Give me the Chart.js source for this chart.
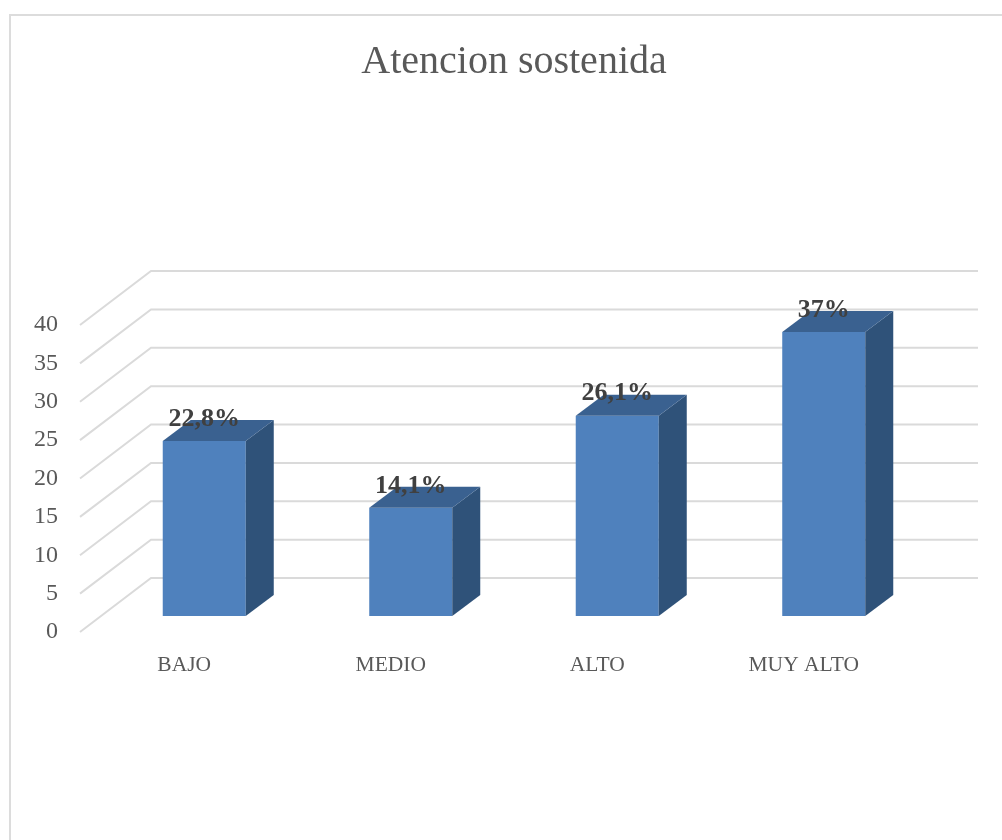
<!DOCTYPE html>
<html>
<head>
<meta charset="utf-8">
<title>Atencion sostenida</title>
<script src="https://cdn.jsdelivr.net/npm/chart.js@4/dist/chart.umd.min.js"></script>
<style>
  html, body { margin: 0; background: #fff; overflow: hidden; }
  #frame { position: absolute; left: 9px; top: 14px; width: 993px; height: 826px; border-left: 2px solid #dcdcdc; border-top: 2px solid #dcdcdc; box-sizing: border-box; }
  canvas { position: absolute; left: 0; top: 0; }
</style>
</head>
<body>
<div id="frame"></div>
<canvas id="chart" width="1002" height="840"></canvas>
<script>
const categories = ['BAJO', 'MEDIO', 'ALTO', 'MUY ALTO'];
const values = [22.8, 14.1, 26.1, 37];
const valueLabels = ['22,8%', '14,1%', '26,1%', '37%'];
const yTicks = [0, 5, 10, 15, 20, 25, 30, 35, 40];

const serif = '"Liberation Serif", serif';
const textColor = '#595959';

// fake 3d: back wall lines + side and top faces of the bars
const fake3d = {
    id: 'fake3d',
    beforeDatasetsDraw(chart) {
        const ctx = chart.ctx;
        const y = chart.scales.y;
        ctx.save();
        ctx.strokeStyle = '#dadada';
        ctx.lineWidth = 2;
        yTicks.forEach(t => {
            const py = y.getPixelForValue(t);
            ctx.beginPath();
            ctx.moveTo(80, py);
            ctx.lineTo(151, py - 54);
            ctx.lineTo(978, py - 54);
            ctx.stroke();
        });
        ctx.restore();
        ctx.save();
        ctx.translate(0, -16);
    },
    afterDatasetsDraw(chart) {
        const ctx = chart.ctx;
        const bars = chart.getDatasetMeta(0).data;
        const dx = 28, dy = 21;
        bars.forEach(bar => {
            const left = bar.x - bar.width / 2;
            const right = bar.x + bar.width / 2;
            ctx.fillStyle = '#2f5279';
            ctx.beginPath();
            ctx.moveTo(right, bar.y);
            ctx.lineTo(right + dx, bar.y - dy);
            ctx.lineTo(right + dx, bar.base - dy);
            ctx.lineTo(right, bar.base);
            ctx.closePath();
            ctx.fill();
            ctx.fillStyle = '#3a6190';
            ctx.beginPath();
            ctx.moveTo(left, bar.y);
            ctx.lineTo(left + dx, bar.y - dy);
            ctx.lineTo(right + dx, bar.y - dy);
            ctx.lineTo(right, bar.y);
            ctx.closePath();
            ctx.fill();
        });
        ctx.fillStyle = '#404040';
        ctx.font = 'bold 26px ' + serif;
        ctx.textAlign = 'center';
        ctx.textBaseline = 'middle';
        bars.forEach((bar, i) => {
            ctx.fillText(valueLabels[i], bar.x, bar.y - 22);
        });
        ctx.restore();
    }
};

new Chart(document.getElementById('chart').getContext('2d'), {
    type: 'bar',
    data: {
        labels: categories,
        datasets: [{
            data: values,
            backgroundColor: '#4f81bd',
            barPercentage: 0.402,
            categoryPercentage: 1
        }]
    },
    options: {
        responsive: false,
        animation: false,
        layout: { padding: { left: 0, right: 75, top: 0, bottom: 0 } },
        plugins: {
            legend: { display: false },
            tooltip: { enabled: false },
            title: {
                display: true,
                text: 'Atencion sostenida',
                color: textColor,
                fullSize: false,
                font: { family: serif, size: 40, weight: 'normal', lineHeight: 1.2 },
                padding: { top: 38, bottom: 239 }
            }
        },
        scales: {
            x: {
                grid: { display: false },
                border: { display: false },
                afterFit(scale) { scale.height = 208; },
                ticks: {
                    color: textColor,
                    font: { family: serif, size: 21.5 },
                    padding: 12,
                    labelOffset: -20,
                    maxRotation: 0
                }
            },
            y: {
                min: 0,
                max: 40,
                grid: { display: false, drawTicks: false },
                border: { display: false },
                afterFit(scale) { scale.width = 101; },
                ticks: {
                    color: textColor,
                    font: { family: serif, size: 24 },
                    stepSize: 5,
                    padding: 43
                }
            }
        }
    },
    plugins: [fake3d]
});
</script>
</body>
</html>
